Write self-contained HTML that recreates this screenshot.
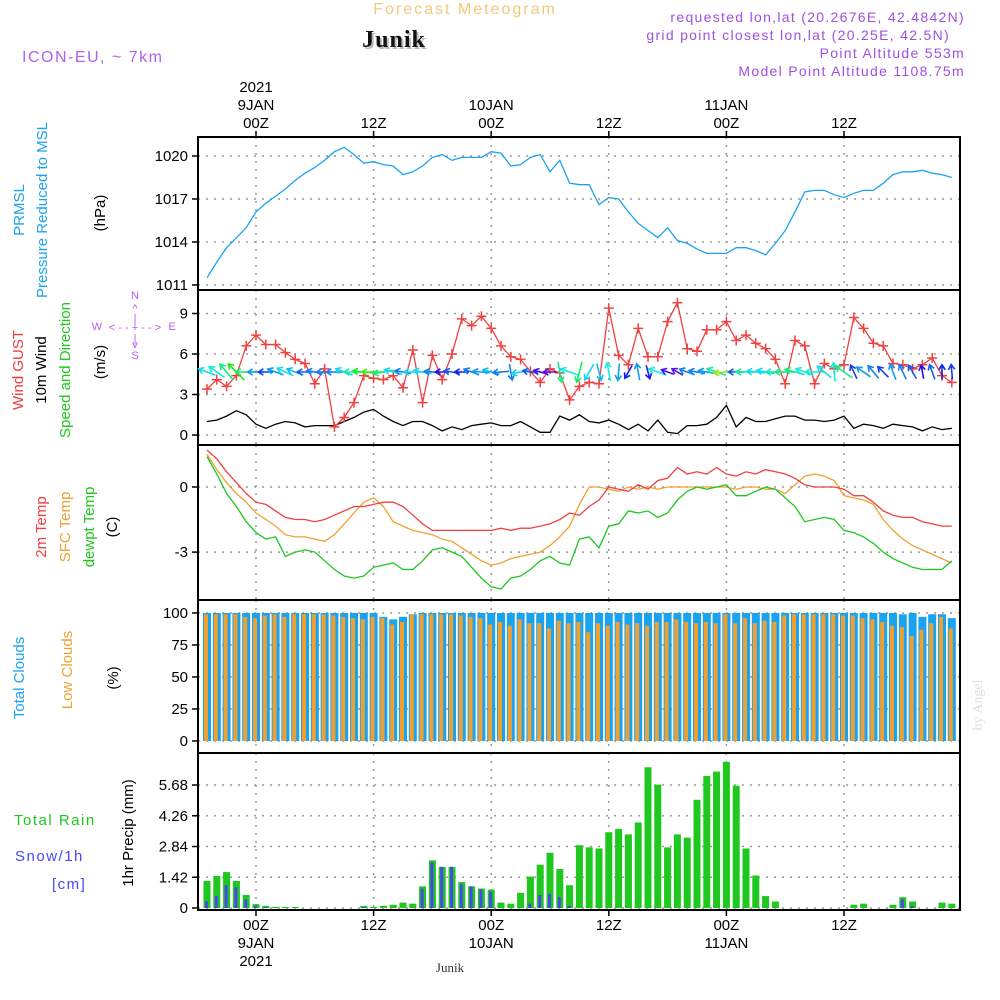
<!DOCTYPE html>
<html><head><meta charset="utf-8">
<style>
html,body{margin:0;padding:0;background:#fff;}
svg{display:block;font-family:"Liberation Sans",sans-serif;}
</style></head>
<body>
<svg id="chart" width="1000" height="1000" viewBox="0 0 1000 1000">
<g id="static">
<text x="465" y="14" text-anchor="middle" font-size="16" fill="#f5c87a" letter-spacing="2">Forecast Meteogram</text>
<text x="396" y="49" text-anchor="middle" font-size="24" font-weight="bold" font-family="Liberation Serif,serif" fill="#bbb" letter-spacing="1">Junik</text>
<text x="394" y="47" text-anchor="middle" font-size="24" font-weight="bold" font-family="Liberation Serif,serif" fill="#111" letter-spacing="1">Junik</text>
<text x="22" y="62" font-size="16" fill="#b060f0" letter-spacing="1.5">ICON-EU, ~ 7km</text>
<g font-size="14" fill="#a050e0" text-anchor="end" letter-spacing="1.3">
<text x="965" y="22">requested lon,lat (20.2676E, 42.4842N)</text>
<text x="950" y="40">grid point closest lon,lat (20.25E, 42.5N)</text>
<text x="965" y="58">Point Altitude 553m</text>
<text x="965" y="76">Model Point Altitude 1108.75m</text>
</g>
<text x="450" y="972" text-anchor="middle" font-size="13" font-family="Liberation Serif,serif" fill="#333">Junik</text>
<text transform="translate(982,705) rotate(-90)" text-anchor="middle" font-size="14" font-family="Liberation Serif,serif" fill="#ddd">by Angel</text>
<g font-size="15">
<text transform="translate(24,210) rotate(-90)" text-anchor="middle" fill="#1aa3f0">PRMSL</text>
<text transform="translate(47,210) rotate(-90)" text-anchor="middle" fill="#1aa3f0">Pressure Reduced to MSL</text>
<text transform="translate(105,213) rotate(-90)" text-anchor="middle" fill="#000">(hPa)</text>
</g>
<g font-size="15">
<text transform="translate(23,370) rotate(-90)" text-anchor="middle" fill="#f03c3c">Wind GUST</text>
<text transform="translate(46,370) rotate(-90)" text-anchor="middle" fill="#000">10m Wind</text>
<text transform="translate(70,370) rotate(-90)" text-anchor="middle" fill="#1ec81e">Speed and Direction</text>
<text transform="translate(105,362) rotate(-90)" text-anchor="middle" fill="#000">(m/s)</text>
</g>
<g font-size="11" fill="#b060f0" text-anchor="middle">
<text x="135" y="299">N</text>
<text x="135" y="312">^</text>
<text x="135" y="322">|</text>
<text x="97" y="330">W</text>
<text x="135" y="331">&lt; - - + - - &gt;</text>
<text x="172" y="330">E</text>
<text x="135" y="342">|</text>
<text x="135" y="348">v</text>
<text x="135" y="359">S</text>
</g>
<g font-size="15">
<text transform="translate(46,527) rotate(-90)" text-anchor="middle" fill="#f03c3c">2m Temp</text>
<text transform="translate(70,527) rotate(-90)" text-anchor="middle" fill="#f0a030">SFC Temp</text>
<text transform="translate(94,527) rotate(-90)" text-anchor="middle" fill="#1ec81e">dewpt Temp</text>
<text transform="translate(117,527) rotate(-90)" text-anchor="middle" fill="#000">(C)</text>
</g>
<g font-size="15">
<text transform="translate(24,678) rotate(-90)" text-anchor="middle" fill="#1aa3f0">Total Clouds</text>
<text transform="translate(72,670) rotate(-90)" text-anchor="middle" fill="#f0a030">Low Clouds</text>
<text transform="translate(118,678) rotate(-90)" text-anchor="middle" fill="#000">(%)</text>
</g>
<g font-size="15" letter-spacing="1.5">
<text x="14" y="825" fill="#1ec81e">Total  Rain</text>
<text x="15" y="861" fill="#4848f0">Snow/1h</text>
<text x="52" y="889" fill="#4848f0">[cm]</text>
</g>
<text transform="translate(133,833) rotate(-90)" text-anchor="middle" font-size="15" fill="#000">1hr Precip (mm)</text>
</g>
<g id="plots"></g>
</svg>
<script>
const hours = [-5,-4,-3,-2,-1,0,1,2,3,4,5,6,7,8,9,10,11,12,13,14,15,16,17,18,19,20,21,22,23,24,25,26,27,28,29,30,31,32,33,34,35,36,37,38,39,40,41,42,43,44,45,46,47,48,49,50,51,52,53,54,55,56,57,58,59,60,61,62,63,64,65,66,67,68,69,70,71];
const pressure = [1011.5,1012.6,1013.6,1014.3,1015.0,1016.1,1016.7,1017.2,1017.7,1018.3,1018.8,1019.2,1019.7,1020.3,1020.6,1020.1,1019.5,1019.6,1019.4,1019.3,1018.7,1018.9,1019.3,1019.9,1020.1,1019.7,1019.9,1019.9,1019.9,1020.3,1020.2,1019.3,1019.4,1019.9,1020.1,1018.9,1019.7,1018.1,1018.0,1018.0,1016.6,1017.1,1017.0,1016.1,1015.3,1014.8,1014.3,1015.0,1014.1,1013.9,1013.5,1013.2,1013.2,1013.2,1013.6,1013.6,1013.4,1013.1,1013.9,1014.8,1016.1,1017.5,1017.6,1017.6,1017.3,1017.1,1017.4,1017.6,1017.6,1018.1,1018.7,1018.9,1018.9,1019.0,1018.8,1018.7,1018.5];
const windSpeed = [1.0,1.1,1.4,1.8,1.5,0.8,0.5,0.8,1.0,0.9,0.6,0.7,0.7,0.7,1.0,1.3,1.7,1.9,1.4,1.0,0.7,1.0,1.0,0.7,0.3,0.6,0.4,0.7,0.8,0.9,0.7,0.7,1.0,0.6,0.2,0.2,1.4,1.1,1.5,1.0,0.9,1.1,0.8,0.4,0.8,0.3,1.1,0.2,0.1,0.7,0.7,0.8,1.3,2.2,0.6,1.3,1.0,1.0,1.2,1.4,1.4,1.1,1.1,1.0,1.1,1.4,0.5,0.8,0.7,0.5,0.8,0.7,0.6,0.3,0.6,0.4,0.5];
const windGust = [3.4,4.1,3.6,4.4,6.6,7.4,6.7,6.7,6.1,5.6,5.3,3.8,4.9,0.6,1.3,2.4,4.4,4.2,4.1,4.4,3.5,6.3,2.4,5.9,4.1,6.0,8.6,8.1,8.8,7.9,6.6,5.8,5.6,4.7,3.9,4.9,4.6,2.6,3.6,3.9,3.8,9.4,5.9,5.2,7.9,5.8,5.8,8.4,9.8,6.4,6.2,7.8,7.8,8.4,7.0,7.4,6.8,6.4,5.6,3.8,7.0,6.6,3.8,5.3,4.9,5.2,8.7,7.9,6.8,6.6,5.3,5.2,4.9,5.2,5.7,4.4,3.9];
const windDir = [200,215,230,225,180,180,180,200,205,200,180,190,180,180,200,180,185,180,170,195,190,180,190,185,180,190,180,200,185,195,175,80,170,190,195,180,80,200,105,120,75,260,95,120,260,75,200,200,210,200,190,190,200,175,180,180,185,190,180,180,195,200,180,220,265,215,245,215,230,225,250,245,240,260,250,270,265];
const tempT2 = [1.7,1.3,0.7,0.2,-0.3,-0.7,-0.8,-1.1,-1.4,-1.5,-1.5,-1.6,-1.5,-1.3,-1.1,-0.9,-0.9,-0.8,-0.7,-0.7,-0.9,-1.3,-1.7,-2.0,-2.0,-2.0,-2.0,-2.0,-2.0,-2.0,-1.9,-2.0,-1.9,-1.9,-1.8,-1.7,-1.5,-1.2,-1.3,-0.9,-0.6,0.0,-0.1,-0.2,0.1,-0.1,0.3,0.4,0.9,0.6,0.7,0.6,0.9,0.6,0.5,0.7,0.6,0.8,0.7,0.6,0.4,0.1,0.0,0.0,0.0,-0.1,-0.4,-0.4,-0.7,-1.1,-1.3,-1.4,-1.4,-1.6,-1.7,-1.8,-1.8];
const tempSfc = [1.5,0.8,0.2,-0.3,-0.7,-1.2,-1.5,-1.8,-2.2,-2.3,-2.3,-2.4,-2.5,-2.2,-1.7,-1.2,-0.7,-0.5,-0.9,-1.6,-1.8,-2.0,-2.1,-2.2,-2.4,-2.5,-2.8,-3.1,-3.4,-3.6,-3.5,-3.3,-3.2,-3.1,-3.0,-2.7,-2.3,-1.8,-0.8,0.0,0.0,-0.1,-0.2,0.0,-0.1,0.0,-0.1,0.0,0.0,0.0,0.0,0.0,0.0,0.0,-0.1,0.0,0.0,-0.1,-0.1,-0.3,0.1,0.5,0.6,0.5,0.3,-0.4,-0.5,-0.6,-0.8,-1.5,-2.0,-2.4,-2.7,-2.9,-3.1,-3.3,-3.5];
const tempDew = [1.4,0.6,-0.3,-0.9,-1.6,-2.1,-2.4,-2.3,-3.2,-3.0,-2.9,-3.0,-3.4,-3.8,-4.1,-4.2,-4.1,-3.7,-3.6,-3.5,-3.8,-3.8,-3.4,-2.9,-2.8,-3.0,-3.2,-3.7,-4.2,-4.6,-4.7,-4.2,-4.1,-3.8,-3.4,-3.2,-3.5,-3.6,-2.4,-2.3,-2.8,-1.8,-1.7,-1.1,-1.2,-1.1,-1.4,-1.2,-0.6,-0.2,0.0,-0.1,0.0,0.1,-0.4,-0.4,-0.2,0.0,-0.1,-0.5,-0.9,-1.6,-1.5,-1.4,-1.5,-2.0,-2.1,-2.3,-2.6,-3.0,-3.3,-3.5,-3.7,-3.8,-3.8,-3.8,-3.4];
const cloudTotal = [100,100,100,100,100,100,100,100,100,100,100,100,100,100,100,100,100,100,97,95,97,99,100,100,100,100,100,100,100,100,100,100,100,100,100,100,100,100,100,100,100,100,100,100,100,100,100,100,100,100,100,100,100,100,100,100,100,100,100,100,100,100,100,100,100,100,100,100,100,100,100,99,100,97,99,99,96];
const cloudLow = [99,99,99,99,97,96,98,99,97,99,99,99,99,98,97,96,95,97,96,91,93,99,99,99,99,99,98,97,96,91,93,90,95,92,92,88,94,92,93,85,92,90,93,91,92,90,93,93,95,93,92,93,92,99,92,96,92,94,93,98,99,99,99,99,99,98,98,96,95,93,90,89,82,87,92,97,88];
const precipRain = [1.25,1.48,1.66,1.25,0.6,0.18,0.1,0.05,0.05,0.05,0,0,0,0,0,0,0.1,0.05,0.1,0.15,0.25,0.2,1.0,2.2,1.9,1.9,1.2,1.0,0.9,0.85,0.25,0.2,0.7,1.45,2.0,2.55,1.8,1.05,2.9,2.8,2.75,3.5,3.65,3.4,3.95,6.5,5.7,2.8,3.4,3.25,5.0,6.1,6.3,6.75,5.65,2.75,1.5,0.55,0.3,0,0,0,0,0,0,0,0.15,0.2,0,0,0.15,0.5,0.3,0,0,0.25,0.2];
const precipSnow = [0.3,0.55,1.05,0.95,0.4,0.1,0.05,0,0,0,0,0,0,0,0,0,0.05,0,0,0,0,0,0.9,2.1,1.9,1.9,1.1,1.0,0.85,0.75,0,0,0,0.2,0.6,0.65,0.5,0.1,0,0,0,0,0,0,0,0,0,0,0,0,0,0,0,0,0,0,0,0,0,0,0,0,0,0,0,0,0,0,0,0,0,0.4,0.1,0,0,0,0];
const pTicks = [1011,1014,1017,1020];
const wTicks = [0,3,6,9];
const tTicks = [-3,0];
const cTicks = [0,25,50,75,100];
const rTicks = [0,1.42,2.84,4.26,5.68];
const gridHours = [0,12,24,36,48,60];
const topLabels = ["00Z","12Z","00Z","12Z","00Z","12Z"];
const dateLabels = ["9JAN","","10JAN","","11JAN",""];

const X0=198, X1=960;
const xS = h => 256 + h*9.8;
const panels = {
  p:{top:137,bot:290,y:v=>156+(1020-v)*14.33},
  w:{top:290,bot:445,y:v=>435-v*13.5},
  t:{top:445,bot:600,y:v=>487-v*21.7},
  c:{top:600,bot:753,y:v=>741-v*1.28},
  r:{top:753,bot:910,y:v=>908-v*21.65}
};
const NS='http://www.w3.org/2000/svg';
const root=document.getElementById('plots');
function mk(tag,attrs,parent){const e=document.createElementNS(NS,tag);for(const k in attrs)e.setAttribute(k,attrs[k]);(parent||root).appendChild(e);return e;}

function frame(key,ticks,fmt,name){
  const P=panels[key];
  const g=mk('g',{});
  
  
  gridHours.forEach(h=>{mk('line',{x1:xS(h),x2:xS(h),y1:P.top,y2:P.bot,stroke:'#999','stroke-dasharray':'2,6','stroke-width':1.5},g);});
  ticks.forEach(v=>{
    const y=P.y(v);
    mk('line',{x1:X0,x2:X1,y1:y,y2:y,stroke:'#999','stroke-dasharray':'2,6','stroke-width':1.5},g);
    mk('line',{x1:X0-6,x2:X0,y1:y,y2:y,stroke:'#000','stroke-width':1.5},g);
    const t=mk('text',{x:X0-10,y:y+5,'text-anchor':'end','font-size':15,fill:'#000'},g);
    t.textContent=fmt(v);
    
    
  });
  mk('rect',{x:X0,y:P.top,width:X1-X0,height:P.bot-P.top,fill:'none',stroke:'#000','stroke-width':2},g);
  return g;
}
function line(key,arr,color,name){
  const P=panels[key];
  const pts=arr.map((v,i)=>xS(hours[i]).toFixed(1)+','+P.y(v).toFixed(1)).join(' ');
  const l=mk('polyline',{points:pts,fill:'none',stroke:color,'stroke-width':1.3});
  
  
  return l;
}

frame('p',pTicks,v=>String(v),'pressure');
frame('w',wTicks,v=>String(v),'wind');
frame('t',tTicks,v=>String(v),'temperature');
frame('c',cTicks,v=>String(v),'cloud');
frame('r',rTicks,v=>v===0?'0':v.toFixed(2),'precip');

line('p',pressure,'#1aa3f0','pressure-line');
line('w',windSpeed,'#000','wind-speed-line');
line('w',windGust,'#f04040','wind-gust-line');
windGust.forEach((v,i)=>{
  const x=xS(hours[i]), y=panels.w.y(v);
  const m=mk('path',{d:`M${x-5},${y}H${x+5}M${x},${y-5}V${y+5}`,stroke:'#f04040','stroke-width':1.5});
  
  
});
windDir.forEach((d,i)=>{
  const cx=xS(hours[i]), cy=372;
  const a=d*Math.PI/180, L=12+windSpeed[i]*6;
  const tx=cx+Math.cos(a)*L*0.5, ty=cy+Math.sin(a)*L*0.5;
  const sx=cx-Math.cos(a)*L*0.5, sy=cy-Math.sin(a)*L*0.5;
  const hue=Math.max(70,Math.min(270,270-windSpeed[i]*85));
  const col=`hsl(${hue},85%,50%)`;
  const h1=a+Math.PI*0.82, h2=a-Math.PI*0.82;
  const ar=mk('path',{d:`M${sx},${sy}L${tx},${ty}M${tx+Math.cos(h1)*6},${ty+Math.sin(h1)*6}L${tx},${ty}L${tx+Math.cos(h2)*6},${ty+Math.sin(h2)*6}`,stroke:col,'stroke-width':1.6,fill:'none'});
  
  
});
line('t',tempSfc,'#f0a030','sfc-temp-line');
line('t',tempT2,'#f04040','t2m-line');
line('t',tempDew,'#1ec81e','dewpoint-line');
cloudTotal.forEach((v,i)=>{
  const x=xS(hours[i]);
  const b=mk('rect',{x:x-4,y:panels.c.y(v),width:8,height:panels.c.y(0)-panels.c.y(v),fill:'#1aa3f0'});
  
  
  const lv=cloudLow[i];
  const o=mk('rect',{x:x-3,y:panels.c.y(lv),width:4,height:panels.c.y(0)-panels.c.y(lv),fill:'#f0a030'});
  
  
});
precipRain.forEach((v,i)=>{
  const x=xS(hours[i]), y0=panels.r.y(0);
  const b=mk('rect',{x:x-3.5,y:panels.r.y(v),width:7,height:y0-panels.r.y(v),fill:'#1ec81e'});
  
  
  const s=precipSnow[i];
  const sb=mk('rect',{x:x-2,y:panels.r.y(s),width:3,height:y0-panels.r.y(s),fill:'#4848f0'});
  
  
});
gridHours.forEach((h,i)=>{
  const x=xS(h);
  const t=mk('text',{x:x,y:128,'text-anchor':'middle','font-size':15,fill:'#000'});
  t.textContent=topLabels[i];
  
  
  const b=mk('text',{x:x,y:930,'text-anchor':'middle','font-size':15,fill:'#000'});
  b.textContent=topLabels[i];
  
  
  mk('line',{x1:x,x2:x,y1:910,y2:916,stroke:'#000','stroke-width':1.5});
  mk('line',{x1:x,x2:x,y1:131,y2:137,stroke:'#000','stroke-width':1.5});
  if(dateLabels[i]){
    const d=mk('text',{x:x,y:110,'text-anchor':'middle','font-size':15,fill:'#000'});
    d.textContent=dateLabels[i];
    
    
    const d2=mk('text',{x:x,y:948,'text-anchor':'middle','font-size':15,fill:'#000'});
    d2.textContent=dateLabels[i];
    
    
  }
  if(i===0){
    const y1=mk('text',{x:x,y:92,'text-anchor':'middle','font-size':15,fill:'#000'});
    y1.textContent='2021';
    
    
    const y2=mk('text',{x:x,y:966,'text-anchor':'middle','font-size':15,fill:'#000'});
    y2.textContent='2021';
    
    
  }
});
</script>
</body></html>
